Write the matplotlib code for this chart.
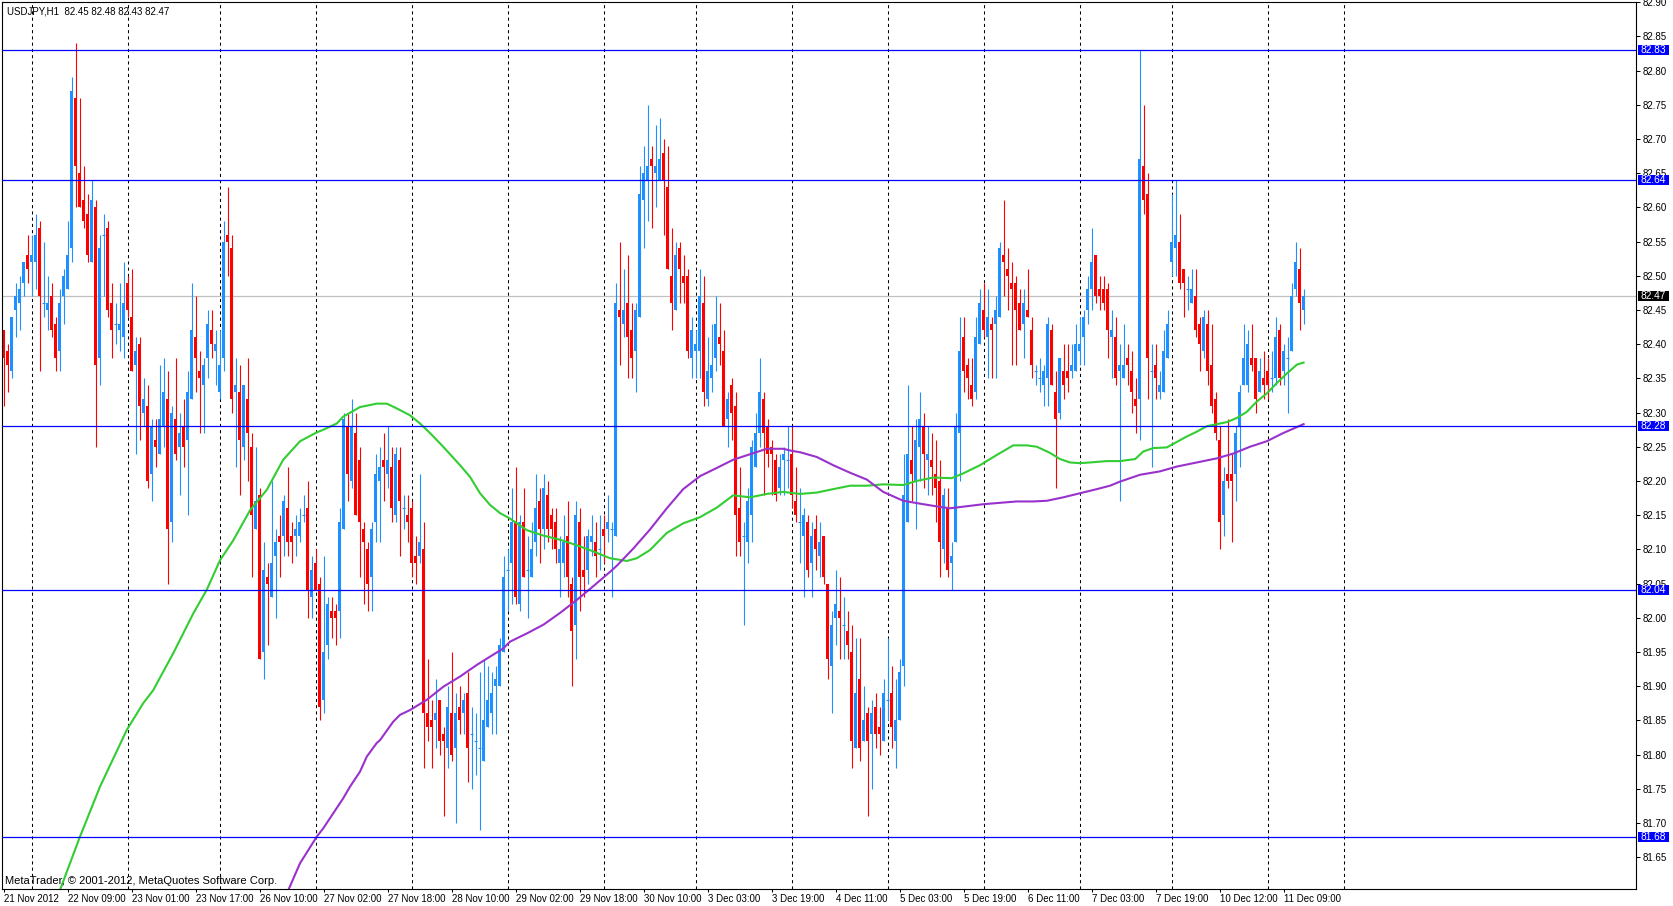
import matplotlib
matplotlib.use('Agg')
import matplotlib.pyplot as plt
from matplotlib.patches import Rectangle
import numpy as np

# ---------------- data (USDJPY H1) ----------------
open_ = [
 82.42, 82.39, 82.36, 82.45, 82.46, 82.49, 82.53, 82.52, 82.52, 82.57,
 82.46, 82.45, 82.47, 82.43, 82.39, 82.47, 82.48, 82.54, 82.76, 82.65,
 82.61, 82.59, 82.52, 82.60, 82.38, 82.56, 82.57, 82.46, 82.43, 82.42,
 82.41, 82.49, 82.44, 82.37, 82.40, 82.30, 82.31, 82.21, 82.26, 82.24,
 82.28, 82.32, 82.14, 82.29, 82.25, 82.28, 82.26, 82.32, 82.41, 82.36,
 82.34, 82.38, 82.42, 82.39, 82.33, 82.38, 82.56, 82.54, 82.33, 82.33,
 82.25, 82.32, 82.25, 82.13, 82.18, 81.95, 82.06, 82.03, 82.09, 82.12,
 82.12, 82.16, 82.12, 82.12, 82.12, 82.15, 82.16, 82.03, 82.08, 82.05,
 81.88, 81.96, 82.01, 82.01, 82.01, 82.13, 82.28, 82.20, 82.27, 82.23,
 82.13, 82.10, 82.06, 82.14, 82.20, 82.23, 82.21, 82.22, 82.15, 82.23,
 82.16, 82.15, 82.16, 82.09, 82.09, 82.10, 81.86, 81.85, 81.85, 81.88,
 81.83, 81.81, 81.86, 81.81, 81.87, 81.86, 81.89, 81.83, 81.82, 81.81,
 81.79, 81.84, 81.86, 81.90, 81.90, 81.95, 82.07, 82.08, 82.14, 82.02,
 82.14, 82.07, 82.06, 82.11, 82.17, 82.13, 82.18, 82.15, 82.14, 82.08,
 82.08, 82.12, 82.05, 81.99, 82.14, 82.07, 82.07, 82.11, 82.11, 82.10,
 82.13, 82.13, 82.13, 82.12, 82.45, 82.43, 82.46, 82.42, 82.39, 82.44,
 82.61, 82.64, 82.67, 82.65, 82.64, 82.68, 82.63, 82.50, 82.45, 82.54,
 82.50, 82.50, 82.38, 82.39, 82.39, 82.46, 82.32, 82.35, 82.38, 82.41,
 82.39, 82.29, 82.34, 82.31, 82.16, 82.12, 82.11, 82.15, 82.22, 82.27,
 82.32, 82.28, 82.25, 82.23, 82.19, 82.23, 82.23, 82.24, 82.17, 82.14,
 82.12, 82.14, 82.08, 82.13, 82.09, 82.12, 82.05, 81.93, 82.00, 82.01,
 81.99, 81.98, 81.95, 81.81, 81.91, 81.82, 81.86, 81.83, 81.87, 81.84,
 81.82, 81.88, 81.89, 81.82, 81.85, 81.93, 82.14, 82.23, 82.20, 82.25,
 82.28, 82.23, 82.23, 82.21, 82.20, 82.10, 82.16, 82.08, 82.11, 82.27,
 82.41, 82.37, 82.34, 82.33, 82.40, 82.45, 82.41, 82.43, 82.43, 82.44,
 82.53, 82.51, 82.49, 82.49, 82.46, 82.43, 82.45, 82.42, 82.36, 82.35,
 82.34, 82.35, 82.42, 82.33, 82.30, 82.36, 82.36, 82.36, 82.36, 82.39,
 82.41, 82.45, 82.48, 82.53, 82.48, 82.48, 82.48, 82.41, 82.41, 82.36,
 82.35, 82.38, 82.36, 82.32, 82.32, 82.66, 82.62, 82.36, 82.37, 82.33,
 82.33, 82.38, 82.52, 82.54, 82.55, 82.51, 82.48, 82.46, 82.47, 82.43,
 82.39, 82.43, 82.37, 82.32, 82.26, 82.15, 82.21, 82.21, 82.21, 82.28,
 82.34, 82.34, 82.38, 82.38, 82.33, 82.35, 82.36, 82.35, 82.35, 82.42,
 82.36, 82.38, 82.39, 82.48, 82.51, 82.45]

high_ = [
 82.42, 82.40, 82.44, 82.49, 82.50, 82.52, 82.56, 82.56, 82.59, 82.58,
 82.55, 82.50, 82.49, 82.44, 82.48, 82.51, 82.58, 82.79, 82.84, 82.76,
 82.66, 82.62, 82.64, 82.61, 82.56, 82.59, 82.58, 82.49, 82.46, 82.49,
 82.52, 82.50, 82.51, 82.41, 82.41, 82.35, 82.34, 82.29, 82.29, 82.37,
 82.38, 82.36, 82.31, 82.38, 82.30, 82.32, 82.36, 82.49, 82.47, 82.39,
 82.38, 82.45, 82.45, 82.42, 82.42, 82.58, 82.63, 82.56, 82.38, 82.37,
 82.34, 82.38, 82.27, 82.25, 82.19, 82.11, 82.08, 82.20, 82.13, 82.15,
 82.18, 82.22, 82.14, 82.15, 82.16, 82.18, 82.20, 82.09, 82.10, 82.06,
 82.09, 82.03, 82.03, 82.02, 82.16, 82.30, 82.30, 82.32, 82.30, 82.25,
 82.14, 82.11, 82.14, 82.24, 82.25, 82.27, 82.28, 82.25, 82.25, 82.25,
 82.18, 82.18, 82.17, 82.12, 82.21, 82.14, 81.94, 81.88, 81.91, 81.88,
 81.84, 81.90, 81.95, 81.89, 81.90, 81.89, 81.92, 81.87, 81.86, 81.92,
 81.94, 81.93, 81.92, 81.93, 81.97, 82.09, 82.10, 82.19, 82.22, 82.15,
 82.19, 82.12, 82.14, 82.21, 82.19, 82.21, 82.20, 82.16, 82.16, 82.12,
 82.15, 82.17, 82.06, 82.17, 82.16, 82.12, 82.13, 82.15, 82.14, 82.15,
 82.15, 82.18, 82.14, 82.49, 82.55, 82.51, 82.53, 82.46, 82.46, 82.66,
 82.69, 82.75, 82.69, 82.72, 82.73, 82.70, 82.69, 82.57, 82.55, 82.55,
 82.53, 82.51, 82.44, 82.42, 82.51, 82.50, 82.41, 82.43, 82.47, 82.46,
 82.42, 82.33, 82.35, 82.33, 82.22, 82.14, 82.19, 82.26, 82.30, 82.38,
 82.33, 82.29, 82.26, 82.24, 82.24, 82.25, 82.28, 82.28, 82.22, 82.19,
 82.16, 82.15, 82.14, 82.15, 82.14, 82.12, 82.05, 82.01, 82.07, 82.06,
 82.03, 82.01, 81.99, 81.97, 81.97, 81.90, 81.87, 81.88, 81.89, 81.87,
 81.91, 81.97, 81.93, 81.91, 81.94, 82.24, 82.34, 82.28, 82.29, 82.33,
 82.30, 82.28, 82.27, 82.26, 82.23, 82.19, 82.19, 82.11, 82.30, 82.44,
 82.44, 82.38, 82.38, 82.44, 82.48, 82.49, 82.48, 82.44, 82.47, 82.55,
 82.61, 82.54, 82.52, 82.50, 82.48, 82.48, 82.51, 82.44, 82.37, 82.38,
 82.37, 82.44, 82.43, 82.36, 82.38, 82.40, 82.40, 82.40, 82.43, 82.44,
 82.45, 82.50, 82.57, 82.53, 82.50, 82.50, 82.49, 82.45, 82.44, 82.40,
 82.43, 82.40, 82.39, 82.35, 82.83, 82.75, 82.65, 82.40, 82.40, 82.36,
 82.42, 82.45, 82.62, 82.64, 82.59, 82.51, 82.50, 82.51, 82.51, 82.44,
 82.45, 82.45, 82.43, 82.33, 82.28, 82.22, 82.29, 82.24, 82.28, 82.34,
 82.43, 82.42, 82.43, 82.38, 82.38, 82.39, 82.38, 82.39, 82.44, 82.43,
 82.40, 82.41, 82.49, 82.55, 82.54, 82.48]

low_ = [
 82.31, 82.33, 82.35, 82.41, 82.42, 82.47, 82.49, 82.47, 82.48, 82.36,
 82.44, 82.42, 82.41, 82.36, 82.36, 82.43, 82.48, 82.52, 82.60, 82.60,
 82.57, 82.52, 82.52, 82.25, 82.34, 82.47, 82.44, 82.38, 82.40, 82.39,
 82.38, 82.44, 82.36, 82.24, 82.26, 82.28, 82.19, 82.17, 82.22, 82.24,
 82.25, 82.05, 82.11, 82.23, 82.18, 82.22, 82.15, 82.32, 82.33, 82.27,
 82.27, 82.35, 82.38, 82.34, 82.32, 82.36, 82.50, 82.30, 82.22, 82.18,
 82.23, 82.20, 82.06, 82.13, 81.94, 81.91, 81.96, 82.03, 82.00, 82.06,
 82.09, 82.09, 82.08, 82.09, 82.11, 82.14, 82.00, 82.00, 82.04, 81.85,
 81.86, 81.94, 81.97, 81.96, 81.97, 82.13, 82.17, 82.19, 82.15, 82.06,
 82.02, 82.01, 82.01, 82.11, 82.11, 82.17, 82.19, 82.14, 82.14, 82.09,
 82.13, 82.11, 82.06, 82.05, 82.08, 81.78, 81.82, 81.78, 81.81, 81.80,
 81.71, 81.78, 81.79, 81.70, 81.83, 81.83, 81.76, 81.75, 81.77, 81.69,
 81.79, 81.84, 81.83, 81.83, 81.90, 81.95, 82.01, 82.02, 82.02, 82.01,
 82.06, 82.00, 82.06, 82.09, 82.08, 82.10, 82.11, 82.10, 82.08, 82.03,
 82.06, 82.03, 81.90, 81.94, 82.01, 82.03, 82.05, 82.09, 82.06, 82.07,
 82.08, 82.11, 82.03, 82.12, 82.37, 82.41, 82.35, 82.35, 82.33, 82.44,
 82.54, 82.58, 82.57, 82.60, 82.64, 82.56, 82.51, 82.42, 82.45, 82.46,
 82.46, 82.38, 82.35, 82.35, 82.35, 82.31, 82.31, 82.33, 82.36, 82.37,
 82.28, 82.25, 82.26, 82.09, 82.09, 81.99, 82.08, 82.11, 82.22, 82.25,
 82.18, 82.22, 82.18, 82.17, 82.18, 82.18, 82.19, 82.16, 82.14, 82.08,
 82.03, 82.06, 82.03, 82.07, 82.06, 82.05, 81.91, 81.86, 81.96, 81.94,
 81.94, 81.94, 81.78, 81.81, 81.79, 81.82, 81.71, 81.75, 81.81, 81.80,
 81.82, 81.85, 81.81, 81.78, 81.85, 81.90, 82.14, 82.17, 82.13, 82.20,
 82.19, 82.18, 82.18, 82.14, 82.06, 82.08, 82.06, 82.04, 82.11, 82.20,
 82.33, 82.32, 82.31, 82.32, 82.40, 82.41, 82.35, 82.35, 82.35, 82.44,
 82.47, 82.45, 82.37, 82.37, 82.42, 82.38, 82.44, 82.35, 82.34, 82.33,
 82.31, 82.31, 82.34, 82.19, 82.29, 82.32, 82.33, 82.35, 82.36, 82.37,
 82.37, 82.43, 82.45, 82.46, 82.45, 82.45, 82.38, 82.35, 82.34, 82.17,
 82.35, 82.34, 82.30, 82.27, 82.26, 82.59, 82.32, 82.22, 82.32, 82.32,
 82.33, 82.38, 82.50, 82.50, 82.48, 82.44, 82.45, 82.46, 82.41, 82.36,
 82.38, 82.34, 82.30, 82.26, 82.10, 82.12, 82.19, 82.11, 82.17, 82.22,
 82.34, 82.33, 82.36, 82.30, 82.33, 82.32, 82.32, 82.33, 82.34, 82.34,
 82.34, 82.30, 82.39, 82.47, 82.42, 82.43]

close_ = [
 82.38, 82.37, 82.44, 82.47, 82.48, 82.52, 82.51, 82.53, 82.56, 82.47,
 82.46, 82.46, 82.42, 82.38, 82.46, 82.50, 82.53, 82.77, 82.66, 82.60,
 82.58, 82.53, 82.61, 82.37, 82.54, 82.56, 82.45, 82.42, 82.43, 82.43,
 82.46, 82.45, 82.36, 82.39, 82.31, 82.32, 82.20, 82.28, 82.25, 82.29,
 82.33, 82.13, 82.30, 82.24, 82.27, 82.25, 82.33, 82.42, 82.38, 82.35,
 82.37, 82.43, 82.40, 82.40, 82.37, 82.55, 82.55, 82.32, 82.34, 82.26,
 82.34, 82.27, 82.15, 82.17, 81.94, 82.07, 82.05, 82.08, 82.11, 82.11,
 82.17, 82.11, 82.11, 82.13, 82.14, 82.15, 82.04, 82.07, 82.04, 81.87,
 81.95, 82.02, 82.00, 82.00, 82.14, 82.29, 82.21, 82.28, 82.15, 82.14,
 82.11, 82.05, 82.13, 82.21, 82.22, 82.22, 82.23, 82.16, 82.24, 82.17,
 82.16, 82.14, 82.08, 82.08, 82.11, 81.86, 81.84, 81.84, 81.86, 81.82,
 81.82, 81.87, 81.80, 81.86, 81.85, 81.88, 81.81, 81.83, 81.82, 81.81,
 81.85, 81.88, 81.89, 81.91, 81.96, 82.06, 82.07, 82.14, 82.03, 82.14,
 82.06, 82.07, 82.10, 82.16, 82.13, 82.19, 82.13, 82.13, 82.10, 82.10,
 82.11, 82.06, 81.98, 82.15, 82.06, 82.06, 82.12, 82.12, 82.09, 82.10,
 82.12, 82.14, 82.13, 82.46, 82.44, 82.45, 82.41, 82.38, 82.45, 82.62,
 82.65, 82.66, 82.66, 82.66, 82.67, 82.64, 82.51, 82.46, 82.53, 82.51,
 82.49, 82.39, 82.42, 82.40, 82.47, 82.33, 82.36, 82.37, 82.43, 82.40,
 82.28, 82.32, 82.30, 82.15, 82.11, 82.12, 82.17, 82.25, 82.27, 82.33,
 82.27, 82.24, 82.24, 82.18, 82.22, 82.24, 82.23, 82.18, 82.15, 82.14,
 82.15, 82.07, 82.12, 82.10, 82.11, 82.06, 81.94, 81.99, 82.02, 82.00,
 81.99, 81.96, 81.82, 81.89, 81.81, 81.85, 81.82, 81.86, 81.83, 81.83,
 81.89, 81.88, 81.84, 81.85, 81.92, 82.18, 82.24, 82.21, 82.26, 82.29,
 82.24, 82.24, 82.22, 82.19, 82.11, 82.18, 82.07, 82.09, 82.28, 82.39,
 82.36, 82.35, 82.32, 82.41, 82.46, 82.42, 82.44, 82.42, 82.45, 82.54,
 82.52, 82.50, 82.48, 82.45, 82.42, 82.46, 82.44, 82.37, 82.36, 82.35,
 82.36, 82.43, 82.34, 82.29, 82.38, 82.34, 82.35, 82.37, 82.40, 82.40,
 82.44, 82.48, 82.52, 82.47, 82.47, 82.46, 82.42, 82.42, 82.35, 82.37,
 82.37, 82.37, 82.33, 82.31, 82.67, 82.61, 82.38, 82.36, 82.35, 82.34,
 82.39, 82.43, 82.55, 82.56, 82.49, 82.49, 82.48, 82.48, 82.42, 82.40,
 82.44, 82.36, 82.31, 82.27, 82.14, 82.20, 82.20, 82.20, 82.27, 82.33,
 82.38, 82.40, 82.37, 82.32, 82.36, 82.34, 82.34, 82.35, 82.41, 82.35,
 82.39, 82.38, 82.47, 82.52, 82.46, 82.47]

# moving averages (bar position, value)
ma_green_x = [14.1, 19.1, 24.1, 30.8, 34.9, 37.4, 42.4, 47.4, 50.8, 54.1, 57.4, 61.6,
              65.8, 69.9, 74.1, 78.3, 80.0, 83.3, 84.9, 89.1, 93.3, 95.8, 98.3, 101.6,
              104.1, 106.6, 109.9, 114.1, 116.6, 119.1, 121.6, 124.1, 126.6, 130.8, 135.0,
              139.1, 143.3, 147.4, 151.6, 155.8, 158.3, 161.6, 165.8, 169.9, 174.1, 178.3,
              182.4, 186.6, 190.8, 194.9, 199.1, 203.3, 207.4, 211.6, 215.8, 219.9, 224.9,
              228.3, 232.4, 237.0, 239.9, 244.1, 248.3, 252.4, 255.8, 258.3, 261.6, 264.1,
              266.6, 269.1, 271.6, 275.8, 279.1, 282.9, 284.9, 287.4, 290.8, 293.3, 295.8,
              298.3, 300.8, 303.3, 305.8, 308.3, 310.8, 313.3, 315.8, 318.3, 320.8, 323.3,
              325.0]
ma_green_y = [81.602, 81.680, 81.753, 81.836, 81.875, 81.894, 81.948, 82.006, 82.041,
              82.084, 82.113, 82.157, 82.187, 82.231, 82.258, 82.271, 82.275, 82.284,
              82.294, 82.308, 82.313, 82.313, 82.306, 82.296, 82.284, 82.270, 82.250,
              82.223, 82.206, 82.182, 82.165, 82.153, 82.145, 82.128, 82.120, 82.114,
              82.106, 82.097, 82.087, 82.083, 82.087, 82.099, 82.124, 82.138, 82.147,
              82.161, 82.179, 82.176, 82.181, 82.184, 82.181, 82.183, 82.188, 82.193,
              82.193, 82.195, 82.194, 82.200, 82.205, 82.204, 82.211, 82.223, 82.238,
              82.252, 82.252, 82.250, 82.241, 82.232, 82.227, 82.226, 82.227, 82.229,
              82.229, 82.232, 82.243, 82.248, 82.249, 82.257, 82.265, 82.272, 82.280,
              82.283, 82.286, 82.292, 82.301, 82.316, 82.328, 82.343, 82.357, 82.370,
              82.373]
ma_purple_x = [71.2, 74.1, 78.3, 79.9, 82.4, 84.9, 86.6, 89.1, 90.8, 93.3, 94.1, 97.4,
               99.1, 101.6, 105.8, 109.9, 114.1, 118.3, 122.4, 124.9, 126.6, 130.8, 135.0,
               139.1, 143.3, 147.4, 151.6, 153.3, 157.4, 161.6, 165.8, 169.9, 174.1, 178.3,
               182.4, 186.6, 190.8, 194.9, 197.0, 199.1, 203.3, 207.4, 211.6, 215.8, 219.9,
               224.9, 229.9, 234.1, 236.6, 240.8, 245.0, 249.1, 253.3, 257.4, 260.8, 264.9,
               269.1, 273.3, 276.6, 279.1, 284.1, 289.1, 293.3, 298.3, 303.3, 307.4, 311.6,
               315.8, 319.9, 325.0]
ma_purple_y = [81.602, 81.641, 81.680, 81.692, 81.714, 81.736, 81.753, 81.775, 81.797,
               81.817, 81.821, 81.848, 81.858, 81.865, 81.880, 81.899, 81.914, 81.931,
               81.946, 81.955, 81.965, 81.977, 81.990, 82.007, 82.026, 82.046, 82.067,
               82.076, 82.101, 82.129, 82.160, 82.188, 82.207, 82.219, 82.231, 82.239,
               82.247, 82.247, 82.244, 82.242, 82.235, 82.223, 82.212, 82.202, 82.184,
               82.171, 82.166, 82.162, 82.160, 82.163, 82.166, 82.168, 82.170, 82.170,
               82.171, 82.176, 82.182, 82.188, 82.193, 82.199, 82.209, 82.214, 82.221,
               82.227, 82.233, 82.240, 82.250, 82.258, 82.270, 82.283]

levels = [82.83, 82.64, 82.28, 82.04, 81.68]
current_price = 82.47
day_grid_bars = [7, 31, 54, 78, 102, 126, 150, 173, 197, 221, 245, 269, 292, 316, 335]
xtick_bars = [0, 16, 32, 48, 64, 80, 96, 112, 128, 144, 160, 176, 192, 208, 224, 240,
              256, 272, 288, 304, 320]
xtick_labels = ["21 Nov 2012", "22 Nov 09:00", "23 Nov 01:00", "23 Nov 17:00",
                "26 Nov 10:00", "27 Nov 02:00", "27 Nov 18:00", "28 Nov 10:00",
                "29 Nov 02:00", "29 Nov 18:00", "30 Nov 10:00", "3 Dec 03:00",
                "3 Dec 19:00", "4 Dec 11:00", "5 Dec 03:00", "5 Dec 19:00",
                "6 Dec 11:00", "7 Dec 03:00", "7 Dec 19:00", "10 Dec 12:00",
                "11 Dec 09:00"]
ytick_values = [81.65, 81.70, 81.75, 81.80, 81.85, 81.90, 81.95, 82.00, 82.05, 82.10,
                82.15, 82.20, 82.25, 82.30, 82.35, 82.40, 82.45, 82.50, 82.55, 82.60,
                82.65, 82.70, 82.75, 82.80, 82.85, 82.90]
title_text = "USDJPY,H1  82.45 82.48 82.43 82.47"
copyright_text = "MetaTrader, \u00a9 2001-2012, MetaQuotes Software Corp."

# ---------------- drawing ----------------
plt.rcParams['font.family'] = ['Liberation Sans', 'DejaVu Sans']

W, H = 1674, 906
fig = plt.figure(figsize=(W / 100, H / 100), dpi=100)
fig.patch.set_facecolor('white')
L_px, R_px, T_px, B_px = 2, 1636, 2, 889
ax = fig.add_axes([L_px / W, 1 - B_px / H, (R_px - L_px) / W, (B_px - T_px) / H])
ax.set_facecolor('white')

O = np.array(open_); Hh = np.array(high_); Lo = np.array(low_); C = np.array(close_)
x = np.arange(len(O))
BLUE = '#1E90FF'
RED = '#FF0000'
col = np.where(C >= O, BLUE, RED)

# day separators
for g in day_grid_bars:
    ax.axvline(g, color='black', lw=0.75, ls=(0, (3, 3)), zorder=1)

# current price line
ax.axhline(current_price, color='#C0C0C0', lw=0.9, zorder=1.2)

# candles
ax.vlines(x, Lo, Hh, colors=col, lw=0.8, zorder=2)
nz = C != O
ax.bar(x[nz], np.abs(C - O)[nz], bottom=np.minimum(O, C)[nz], width=0.75,
       color=col[nz], linewidth=0, zorder=2.1)
dj = ~nz
ax.hlines(O[dj], x[dj] - 0.4, x[dj] + 0.4, colors=BLUE, lw=0.8, zorder=2.1)

# moving averages
ax.plot(ma_green_x, ma_green_y, color='#32CD32', lw=1.5, zorder=3, solid_joinstyle='round')
ax.plot(ma_purple_x, ma_purple_y, color='#9932CC', lw=1.5, zorder=3, solid_joinstyle='round')

# horizontal levels
for lv in levels:
    ax.axhline(lv, color='#0000FF', lw=0.9, zorder=4)

ax.set_xlim(-0.4, 408.1)
ax.set_ylim(81.6034, 82.9002)

for sp in ax.spines.values():
    sp.set_color('black')
    sp.set_linewidth(0.8)

ax.yaxis.tick_right()
ax.set_yticks(ytick_values)
ax.set_yticklabels(['%.2f' % v for v in ytick_values])
ax.tick_params(axis='y', direction='out', length=3, width=0.75, pad=1.5,
               labelsize=7, colors='black')
ax.set_xticks(xtick_bars)
ax.set_xticklabels(xtick_labels, ha='left')
ax.tick_params(axis='x', direction='out', length=2.5, width=0.75, pad=1,
               labelsize=7, colors='black')

# price labels on the right (drawn over the regular tick labels, as in the terminal)
ytr = ax.get_yaxis_transform()
bx0 = (1638 - L_px) / (R_px - L_px)
bw = 31 / (R_px - L_px)
bh = 10 / 684.0
for lv, fc in [(l, '#0000FF') for l in levels] + [(current_price, '#000000')]:
    ax.add_patch(Rectangle((bx0, lv - bh / 2), bw, bh, transform=ytr, facecolor=fc,
                           edgecolor='none', clip_on=False, zorder=5))
    ax.text(bx0 + bw / 2, lv, '%.2f' % lv, transform=ytr, ha='center', va='center',
            color='white', fontsize=7.3, zorder=6, clip_on=False)

fig.text(7 / W, 1 - 11 / H, title_text, fontsize=7, ha='left', va='center', color='black')
fig.text(5 / W, 1 - 881 / H, copyright_text, fontsize=8, ha='left', va='center',
         color='black')

fig.savefig('out.png', dpi=100, facecolor='white')
